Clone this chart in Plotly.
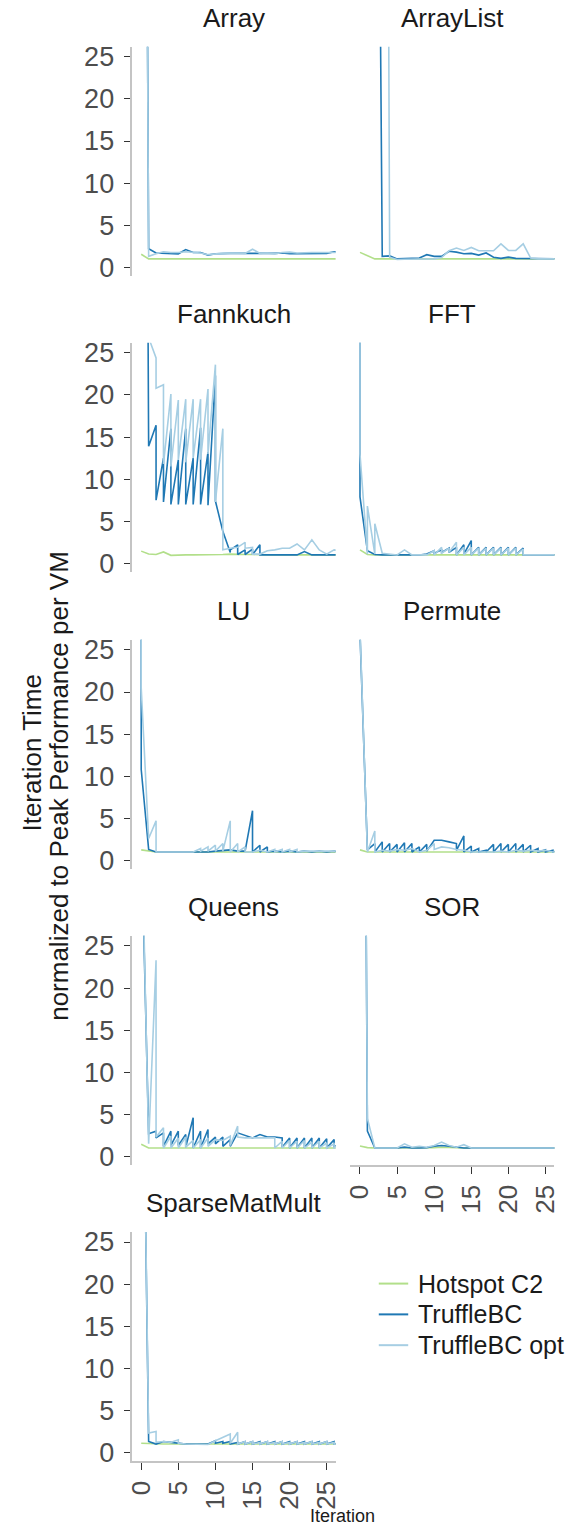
import plotly.graph_objects as go

# ---------------- data (value per iteration; a tuple = several measurements at that iteration)
benchmarks = ["Array", "ArrayList", "Fannkuch", "FFT", "LU", "Permute", "Queens", "SOR", "SparseMatMult"]
vm_names = ["Hotspot C2", "TruffleBC", "TruffleBC opt"]
y_ticks = [0, 5, 10, 15, 20, 25]
x_ticks = [0, 5, 10, 15, 20, 25]

array_c2 = [1.55, 1.0, 1.0, 1.0, 1.0, 1.0, 1.0, 1.0, 1.0, 1.0, 1.0, 1.0, 1.0, 1.0, 1.0, 1.0, 1.0, 1.0, 1.0, 1.0, 1.0, 1.0, 1.0, 1.0, 1.0, 1.0, 1.0, 1.0]
array_bc = [170, 2.2, 1.7, 1.65, 1.65, 1.6, 2.1, 1.75, 1.75, 1.45, 1.6, 1.65, 1.65, 1.65, 1.65, 1.6, 1.65, 1.65, 1.65, 1.7, 1.6, 1.6, 1.6, 1.65, 1.65, 1.65, 1.85, 1.8]
array_opt = [170, 1.3, 1.6, 1.85, 1.75, 1.75, 1.85, 1.8, 1.7, 1.5, 1.6, 1.65, 1.7, 1.7, 1.65, 2.15, 1.65, 1.7, 1.6, 1.75, 1.8, 1.7, 1.75, 1.75, 1.75, 1.75, 1.75, 1.75]

arraylist_c2 = [1.77, 1.4, 1.0, 1.0, 1.0, 1.0, 1.0, 1.0, 1.0, 1.0, 1.0, 1.0, 1.0, 1.0, 1.0, 1.0, 1.0, 1.0, 1.0, 1.0, 1.0, 1.0, 1.0, 1.0, 1.0, 1.0, 1.0, 1.0]
arraylist_bc = [300, 300, 114, 1.3, 1.35, 1.0, 1.05, 1.05, 1.1, 1.5, 1.3, 1.3, 1.9, 1.8, 1.6, 1.65, 1.45, 1.7, 1.2, 1.06, 1.2, 1.06, 1.06, 1.06, 1.0, 1.0, 1.0, 1.0]
arraylist_opt = [300, 300, 300, 210, 1.2, 0.92, 0.95, 0.95, 0.95, 1.0, 1.0, 1.15, 1.97, 2.28, 2.0, 2.36, 1.96, 1.96, 1.96, 2.79, 2.0, 2.0, 2.79, 1.1, 1.0, 1.0, 1.0, 1.0]

fannkuch_c2 = [1.45, 1.1, 1.05, 1.35, 0.95, 1.0, 1.0, 1.0, 1.0, 1.0, 1.05, 1.05, 1.1, 1.05, 1.05, 1.05, 1.0, 1.0, 1.0, 1.0, 1.0, 1.0, 1.0, 1.0, 1.0, 1.0, 1.0, 1.0]
fannkuch_bc = [190, 13.9, (16.4, 7.5), (12.5, 7.3), (16.0, 7.0), (12.3, 7.0), (16.0, 7.0), (12.5, 7.0),
               (16.1, 7.0), (13.2, 6.9), (22.3, 7.4), 3.8, (1.3, 1.6), (2.2, 1.05), (1.6, 1.05), (1.7, 1.05),
               (2.2, 1.0), 1.0, 1.0, 1.0, 1.0, 1.0, 1.4, 1.0, 1.0, 1.0, 1.0, 1.0]
fannkuch_opt = [300, 26.8, (24.4, 20.8), (21.2, 11.8), (20.1, 11.5), (19.4, 12.3), (19.5, 12.0), (19.5, 12.5),
                (19.5, 12.3), (20.7, 13.0), (23.6, 7.3), (16.0, 1.6), 1.8, 1.9, (2.5, 1.8), (1.9, 1.1), 1.1,
                1.5, 1.6, 1.8, 1.8, 2.3, 1.6, 2.8, 1.6, 1.1, 1.6, 1.5]

fft_c2 = [1.6, 1.05, 1.0, 1.0, 1.0, 1.0, 1.0, 1.0, 1.0, 1.0, 1.0, 1.0, 1.0, 1.0, 1.0, 1.0, 1.0, 1.0, 1.0, 1.0, 1.0, 1.0, 1.0, 1.0, 1.0, 1.0, 1.0, 1.0]
fft_bc = [(300, 7.9), 1.5, 1.05, 1.0, 1.0, 1.0, 1.0, 1.0, 1.0, 1.1, (1.5, 1.2), (1.6, 1.3), (1.8, 1.3),
          (1.9, 1.0), (2.2, 1.1), (2.7, 1.0), (1.9, 1.0), (1.9, 1.0), (1.9, 1.0), (1.9, 1.0), (1.9, 1.0),
          (1.9, 1.0), (1.8, 1.0), 1.0, 1.0, 1.0, 1.0, 1.0]
fft_opt = [(300, 13.0), (1.1, 6.8), (1.1, 4.7), 1.2, 1.1, 1.0, 1.6, 1.0, 1.0, 1.0, (1.5, 1.0), (1.9, 1.2),
           (1.8, 1.3), (2.5, 1.0), (1.9, 1.0), (1.9, 1.0), (1.8, 1.0), (1.8, 1.0), (1.8, 1.0), (1.8, 1.0),
           (1.8, 1.0), (1.8, 1.0), (1.7, 1.0), 1.0, 1.0, 1.0, 1.0, 1.0]

lu_c2 = [1.25, 1.1, 1.0, 1.0, 1.0, 1.0, 1.0, 1.0, 1.0, 1.0, 1.0, 1.0, 1.0, 1.0, 1.0, 1.0, 1.0, 1.0, 1.0, 1.0, 1.0, 1.0, 1.0, 1.0, 1.0, 1.0, 1.0, 1.0]
lu_bc = [(300, 10.8), 1.3, 1.0, 1.0, 1.0, 1.0, 1.0, 1.0, 1.0, 1.0, 1.1, 1.2, 1.25, 1.1, 1.1, (5.9, 1.0),
         (1.8, 1.0), (1.6, 1.0), 1.1, 1.0, 1.1, 1.0, 1.1, 1.0, 1.1, 1.0, 1.1, 1.0]
lu_opt = [(300, 20.5), 2.6, (4.7, 1.0), 1.0, 1.0, 1.0, 1.0, 1.0, (1.4, 1.1), (1.6, 1.1), (1.8, 1.1), (2.0, 1.1),
          (4.7, 1.0), (2.0, 1.0), (1.6, 1.0), 1.0, 1.2, 1.0, (1.3, 1.0), (1.3, 1.0), (1.3, 1.0), (1.3, 1.0),
          1.1, 1.1, 1.1, 1.1, 1.1, 1.1]

permute_c2 = [1.25, 1.0, 1.0, 1.0, 1.0, 1.0, 1.0, 1.0, 1.0, 1.0, 1.0, 1.0, 1.0, 1.0, 1.0, 1.0, 1.0, 1.0, 1.0, 1.0, 1.0, 1.0, 1.0, 1.0, 1.0, 1.0, 1.0, 1.0]
permute_bc = [27.0, 1.25, (2.0, 1.0), (2.2, 1.0), (2.0, 1.0), (1.9, 1.0), (2.1, 1.0), (2.0, 1.0), (1.6, 1.0),
              (1.9, 1.1), 2.4, 2.4, 2.2, (2.0, 1.2), (2.9, 1.0), (1.7, 1.0), (1.4, 1.0), (1.2, 1.0), (1.9, 1.0),
              (2.0, 1.0), (1.9, 1.0), (2.0, 1.0), (1.9, 1.0), (1.8, 1.0), (1.4, 1.0), (1.25, 1.0), (1.2, 1.0), (1.3, 1.0)]
permute_opt = [27.5, 1.0, (3.5, 1.0), 1.2, 1.1, 1.3, 1.2, 1.4, 1.0, 1.2, (2.0, 1.3), 1.6, 1.5, 1.3, 1.2, 1.0,
               1.0, 1.0, 1.0, 1.1, 1.0, 1.2, 1.1, 1.2, 1.1, 1.2, 1.0, 1.1]

queens_c2 = [1.45, 1.0, 1.0, 1.0, 1.0, 1.0, 1.0, 1.0, 1.0, 1.0, 1.0, 1.0, 1.0, 1.0, 1.0, 1.0, 1.0, 1.0, 1.0, 1.0, 1.0, 1.0, 1.0, 1.0, 1.0, 1.0, 1.0, 1.0]
queens_bc = [39, 2.7, (3.0, 2.2), (2.8, 1.2), (3.0, 1.3), (3.0, 1.3), (2.6, 1.1), (4.6, 1.0), (3.0, 1.0),
             (3.2, 1.5), (2.3, 1.5), (2.3, 1.2), (2.0, 1.2), 2.8, 2.5, 2.2, 2.6, 2.3, 2.3, (2.2, 1.1),
             (2.2, 1.0), (2.2, 1.0), (2.2, 1.0), (2.2, 1.0), (2.2, 1.0), (2.1, 1.0), (2.0, 1.2), 1.5]
queens_opt = [42, 1.5, (23.3, 2.3), (3.4, 1.0), (2.4, 1.0), (2.2, 1.0), (2.3, 1.1), (1.9, 1.0), (2.0, 1.0),
              (2.2, 1.2), 2.0, 1.9, (2.4, 1.3), (3.6, 2.3), 2.2, 2.2, 2.2, 2.2, (2.2, 1.0), (1.8, 1.0),
              (1.9, 1.0), (1.8, 1.0), (1.9, 1.0), (1.7, 1.0), (1.8, 1.0), (1.6, 1.0), (1.5, 1.0), 1.2]

sor_c2 = [1.25, 1.05, 1.0, 1.0, 1.0, 1.0, 1.0, 1.0, 1.0, 1.0, 1.05, 1.1, 1.05, 1.0, 1.0, 1.0, 1.0, 1.0, 1.0, 1.0, 1.0, 1.0, 1.0, 1.0, 1.0, 1.0, 1.0, 1.0]
sor_bc = [150, 3.0, 1.0, 1.0, 1.0, 1.0, 1.1, 1.0, 1.0, 1.05, 1.2, 1.3, 1.2, 1.1, 1.0, 1.0, 1.0, 1.0, 1.0,
          1.0, 1.0, 1.0, 1.0, 1.0, 1.0, 1.0, 1.0, 1.0]
sor_opt = [150, 4.5, 1.0, 1.0, 1.0, 1.0, 1.5, 1.1, 1.2, 1.1, 1.3, 1.7, 1.3, 1.1, 1.4, 1.0, 1.0, 1.0, 1.0,
           1.0, 1.0, 1.0, 1.0, 1.0, 1.0, 1.0, 1.0, 1.0]

sparse_c2 = [1.1, 1.05, 1.0, 1.0, 1.0, 1.0, 1.0, 1.0, 1.0, 1.0, 1.0, 1.0, 1.0, 1.0, 1.0, 1.0, 1.0, 1.0, 1.0, 1.0, 1.0, 1.0, 1.0, 1.0, 1.0, 1.0, 1.0, 1.0]
sparse_bc = [65, 1.3, 1.0, 1.3, 1.2, 1.1, 1.0, 1.0, 1.0, 1.0, (1.4, 1.1), (1.3, 1.1), (1.3, 1.0), (1.2, 1.0),
             (1.3, 1.0), (1.3, 1.0), (1.3, 1.0), (1.3, 1.0), (1.3, 1.0), (1.3, 1.0), (1.3, 1.0), (1.3, 1.0),
             (1.3, 1.0), (1.3, 1.0), (1.3, 1.0), (1.3, 1.0), (1.3, 1.0), 1.2]
sparse_opt = [65, 2.3, (2.5, 1.2), 1.3, 1.2, (1.5, 1.1), 1.0, 1.0, 1.0, 0.95, 1.4, 1.8, (2.2, 1.1), (2.4, 1.0),
              (1.3, 1.0), (1.3, 1.0), (1.2, 1.0), (1.3, 1.0), (1.2, 1.0), (1.3, 1.0), (1.2, 1.0), (1.3, 1.0),
              (1.2, 1.0), (1.3, 1.0), (1.2, 1.0), (1.3, 1.0), (1.2, 1.0), 1.1]

series = {
    "Array": (array_c2, array_bc, array_opt),
    "ArrayList": (arraylist_c2, arraylist_bc, arraylist_opt),
    "Fannkuch": (fannkuch_c2, fannkuch_bc, fannkuch_opt),
    "FFT": (fft_c2, fft_bc, fft_opt),
    "LU": (lu_c2, lu_bc, lu_opt),
    "Permute": (permute_c2, permute_bc, permute_opt),
    "Queens": (queens_c2, queens_bc, queens_opt),
    "SOR": (sor_c2, sor_bc, sor_opt),
    "SparseMatMult": (sparse_c2, sparse_bc, sparse_opt),
}

# ---------------- styling / layout
vm_colors = ["#b2df8a", "#1f78b4", "#a6cee3"]
FONT = "Liberation Sans, Arial, Helvetica, sans-serif"
W, H = 579, 1530
col_px = [(128, 336), (351, 559)]
row_px = [(43, 274), (341, 572), (640, 871), (938, 1169), (1236, 1467)]
x_range = [-1.3, 26.2]
y_range = [-1.06, 26.2]
legend_rows_px = [1288, 1319, 1350]
legend_line_px = (380, 410)
legend_text_px = 419


def expand(vals):
    xs, ys = [], []
    for i, v in enumerate(vals):
        for y in (v if isinstance(v, tuple) else (v,)):
            xs.append(i)
            ys.append(y)
    return xs, ys


fig = go.Figure()
layout = dict(
    width=W, height=H, margin=dict(l=0, r=0, t=0, b=0),
    plot_bgcolor="white", paper_bgcolor="white",
    font=dict(family=FONT, size=26, color="#4d4d4d"),
    showlegend=False,
)
annotations = []
shapes = []
n_panels = len(benchmarks)
for i, name in enumerate(benchmarks):
    r, c = divmod(i, 2)
    x0, x1 = col_px[c]
    top, bot = row_px[r]
    sfx = "" if i == 0 else str(i + 1)
    show_x = (i == n_panels - 1) or (i == n_panels - 2)
    show_y = (c == 0)
    layout["xaxis" + sfx] = dict(
        domain=[x0 / W, x1 / W], range=x_range, anchor="y" + sfx, fixedrange=True,
        showgrid=False, zeroline=False, showline=show_x, linecolor="#c4c4c4", linewidth=2,
        ticks="outside" if show_x else "", tickvals=x_ticks if show_x else [],
        showticklabels=show_x, tickangle=-90, ticklen=7, tickwidth=1.2, tickcolor="#333333",
        tickfont=dict(size=26, color="#4d4d4d"),
    )
    layout["yaxis" + sfx] = dict(
        domain=[1 - bot / H, 1 - top / H], range=y_range, anchor="x" + sfx, fixedrange=True,
        showgrid=False, zeroline=False, showline=show_y, linecolor="#c4c4c4", linewidth=2,
        ticks="outside" if show_y else "", tickvals=y_ticks if show_y else [],
        showticklabels=show_y, ticklen=6, tickwidth=1.2, tickcolor="#333333",
        ticklabelstandoff=4, tickfont=dict(size=27, color="#4d4d4d"),
    )
    annotations.append(dict(
        text=name, x=(x0 + x1) / 2 / W, y=1 - (top - 29) / H, xref="paper", yref="paper",
        xanchor="center", yanchor="middle", showarrow=False,
        font=dict(size=26, color="#1a1a1a", family=FONT),
    ))
    for k, vm in enumerate(vm_names):
        xs, ys = expand(series[name][k])
        fig.add_trace(go.Scatter(
            x=xs, y=ys, mode="lines", name=vm, showlegend=False,
            line=dict(color=vm_colors[k], width=1.6),
            xaxis="x" + sfx, yaxis="y" + sfx, hoverinfo="skip",
        ))

# legend (key lines + labels)
for k, vm in enumerate(vm_names):
    yy = 1 - legend_rows_px[k] / H
    shapes.append(dict(type="line", xref="paper", yref="paper",
                       x0=legend_line_px[0] / W, x1=legend_line_px[1] / W, y0=yy, y1=yy,
                       line=dict(color=vm_colors[k], width=2)))
    annotations.append(dict(text=vm, x=legend_text_px / W, y=yy, xref="paper", yref="paper",
                            xanchor="left", yanchor="middle", showarrow=False, borderpad=0,
                            font=dict(size=25, color="#1a1a1a", family=FONT)))

annotations.append(dict(text="Iteration Time", x=27 / W, y=1 - 753 / H, xref="paper", yref="paper",
                        textangle=-90, showarrow=False, xanchor="center", yanchor="middle",
                        font=dict(size=26, color="#1a1a1a", family=FONT)))
annotations.append(dict(text="normalized to Peak Performance per VM", x=54 / W, y=1 - 787 / H,
                        xref="paper", yref="paper", textangle=-90, showarrow=False,
                        xanchor="center", yanchor="middle",
                        font=dict(size=26, color="#1a1a1a", family=FONT)))
annotations.append(dict(text="Iteration", x=343 / W, y=1 - 1522 / H, xref="paper", yref="paper",
                        showarrow=False, xanchor="center", yanchor="middle",
                        font=dict(size=18, color="#1a1a1a", family=FONT)))
layout["annotations"] = annotations
layout["shapes"] = shapes
fig.update_layout(**layout)
fig.write_html("out.html")
